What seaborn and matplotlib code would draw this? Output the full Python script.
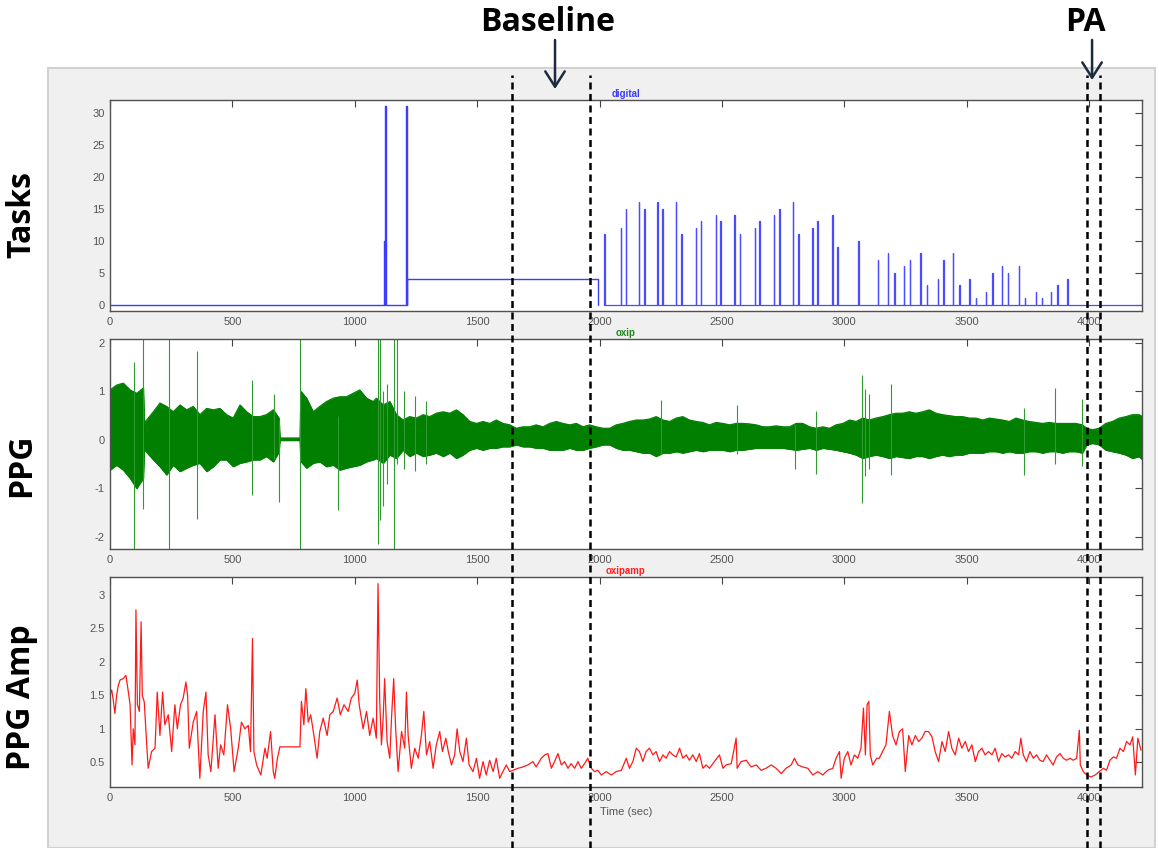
import numpy as np
import seaborn as sns
import matplotlib.pyplot as plt
from matplotlib import transforms
from matplotlib.lines import Line2D
from matplotlib.patches import Rectangle, FancyArrowPatch
from matplotlib.ticker import FormatStrFormatter

# --- Tasks ("digital") : blocks before 2000 s, then task markers ---
block_start = [1121, 1124, 1210, 1214]
block_end = [1124, 1128, 1214, 1992]
block_level = [10, 31, 31, 4]

spike_t = [2019, 2086, 2108, 2160, 2182, 2235, 2257, 2311, 2333, 2392,
           2414, 2475, 2493, 2551, 2573, 2635, 2653, 2711, 2734, 2789,
           2811, 2868, 2890, 2951, 2971, 3056, 3136, 3177, 3203, 3243,
           3268, 3310, 3337, 3381, 3404, 3442, 3469, 3511, 3536, 3578,
           3605, 3644, 3668, 3712, 3737, 3781, 3806, 3844, 3869, 3911]
spike_h = [11, 12, 15, 16, 15, 16, 15, 16, 11, 12,
           13, 14, 13, 14, 11, 12, 13, 14, 15, 16,
           11, 12, 13, 14, 9, 10, 7, 8, 5, 6,
           7, 8, 3, 4, 7, 8, 3, 4, 1, 2,
           5, 6, 5, 6, 1, 2, 1, 2, 3, 4]

# --- PPG ("oxip") : envelope of the dense signal + isolated artefacts ---
ppg_t = [0, 27, 54, 82, 109, 136, 140, 177, 204, 231,
         258, 286, 313, 340, 367, 395, 422, 449, 476, 503,
         531, 558, 585, 612, 639, 667, 690, 694, 776, 780,
         803, 830, 857, 884, 912, 939, 966, 993, 1020, 1048,
         1075, 1088, 1116, 1143, 1170, 1197, 1224, 1252, 1279, 1306,
         1333, 1361, 1388, 1415, 1442, 1469, 1497, 1524, 1551, 1578,
         1605, 1633, 1660, 1687, 1714, 1741, 1769, 1796, 1823, 1850,
         1878, 1905, 1932, 1959, 1986, 2014, 2041, 2068, 2095, 2122,
         2150, 2177, 2204, 2231, 2259, 2286, 2313, 2340, 2367, 2395,
         2422, 2449, 2476, 2504, 2531, 2558, 2585, 2612, 2640, 2667,
         2694, 2721, 2749, 2776, 2803, 2830, 2858, 2885, 2912, 2939,
         2966, 2994, 3021, 3048, 3075, 3102, 3129, 3157, 3184, 3211,
         3238, 3265, 3292, 3320, 3347, 3374, 3401, 3428, 3456, 3483,
         3510, 3537, 3565, 3592, 3619, 3646, 3674, 3701, 3728, 3755,
         3782, 3810, 3837, 3864, 3891, 3918, 3945, 3972, 3990, 4014,
         4041, 4068, 4095, 4123, 4150, 4177, 4204, 4218]
ppg_hi = [1.03, 1.13, 1.17, 1.03, 0.96, 1.07, 0.35, 0.58, 0.76, 0.69,
          0.58, 0.72, 0.62, 0.69, 0.52, 0.65, 0.62, 0.65, 0.52, 0.45,
          0.72, 0.58, 0.48, 0.48, 0.52, 0.62, 0.45, 0.04, 0.04, 1.00,
          0.86, 0.58, 0.69, 0.79, 0.86, 0.89, 0.89, 0.96, 1.03, 0.86,
          0.79, 0.86, 0.72, 0.79, 0.52, 0.41, 0.48, 0.45, 0.52, 0.48,
          0.55, 0.58, 0.55, 0.62, 0.52, 0.38, 0.34, 0.38, 0.34, 0.41,
          0.34, 0.31, 0.24, 0.27, 0.27, 0.31, 0.27, 0.34, 0.38, 0.34,
          0.31, 0.34, 0.27, 0.31, 0.27, 0.24, 0.24, 0.31, 0.34, 0.38,
          0.41, 0.41, 0.43, 0.48, 0.41, 0.38, 0.45, 0.48, 0.41, 0.38,
          0.36, 0.31, 0.36, 0.34, 0.31, 0.34, 0.34, 0.33, 0.31, 0.27,
          0.27, 0.29, 0.27, 0.27, 0.34, 0.34, 0.27, 0.24, 0.27, 0.24,
          0.31, 0.34, 0.41, 0.38, 0.45, 0.41, 0.45, 0.48, 0.52, 0.55,
          0.55, 0.58, 0.55, 0.58, 0.62, 0.55, 0.52, 0.50, 0.48, 0.48,
          0.45, 0.45, 0.41, 0.45, 0.43, 0.41, 0.38, 0.45, 0.41, 0.38,
          0.36, 0.34, 0.36, 0.34, 0.34, 0.34, 0.34, 0.31, 0.24, 0.21,
          0.24, 0.34, 0.38, 0.45, 0.48, 0.52, 0.52, 0.48]
ppg_lo = [-0.62, -0.52, -0.62, -0.79, -1.00, -0.79, -0.20, -0.41, -0.55, -0.72,
          -0.52, -0.65, -0.58, -0.52, -0.48, -0.65, -0.55, -0.41, -0.41, -0.55,
          -0.48, -0.45, -0.41, -0.41, -0.34, -0.45, -0.25, -0.01, -0.01, -0.45,
          -0.58, -0.48, -0.45, -0.55, -0.52, -0.62, -0.58, -0.55, -0.52, -0.45,
          -0.41, -0.38, -0.48, -0.31, -0.38, -0.21, -0.34, -0.27, -0.34, -0.31,
          -0.27, -0.34, -0.27, -0.38, -0.31, -0.21, -0.17, -0.21, -0.17, -0.17,
          -0.14, -0.14, -0.10, -0.14, -0.14, -0.17, -0.17, -0.21, -0.21, -0.21,
          -0.17, -0.21, -0.21, -0.17, -0.14, -0.10, -0.10, -0.17, -0.21, -0.21,
          -0.24, -0.27, -0.27, -0.34, -0.27, -0.27, -0.24, -0.27, -0.24, -0.21,
          -0.24, -0.21, -0.21, -0.21, -0.24, -0.21, -0.21, -0.19, -0.17, -0.17,
          -0.17, -0.17, -0.17, -0.19, -0.21, -0.19, -0.17, -0.21, -0.17, -0.19,
          -0.21, -0.24, -0.27, -0.31, -0.38, -0.34, -0.31, -0.34, -0.38, -0.34,
          -0.36, -0.38, -0.34, -0.34, -0.38, -0.34, -0.31, -0.34, -0.31, -0.31,
          -0.27, -0.27, -0.27, -0.24, -0.24, -0.27, -0.24, -0.27, -0.27, -0.24,
          -0.24, -0.27, -0.24, -0.24, -0.27, -0.24, -0.24, -0.27, -0.10, -0.07,
          -0.10, -0.21, -0.24, -0.27, -0.31, -0.38, -0.34, -0.41]

art_t = [97, 133, 241, 356, 580, 669, 691, 777, 930, 1094, 1101, 1114,
         1130, 1161, 1172, 1200, 1245, 1290, 2251, 2560, 2800, 2886,
         3072, 3086, 3100, 3192, 3734, 3862, 3972, 4214]
art_lo = [-2.25, -1.43, -2.25, -1.64, -1.14, -0.40, -1.29, -2.25, -1.44, -2.14, -1.66, -1.37,
          -0.90, -2.25, -0.50, -0.60, -0.65, -0.50, -0.30, -0.30, -0.60, -0.70,
          -1.30, -0.75, -0.60, -0.72, -0.72, -0.50, -0.54, -0.60]
art_hi = [1.60, 2.10, 2.10, 1.84, 1.24, 0.95, 0.40, 2.10, 0.50, 2.10, 2.10, 1.00,
          1.15, 2.10, 2.10, 1.00, 0.90, 0.80, 0.83, 0.71, 0.30, 0.60,
          1.34, 1.05, 0.95, 1.16, 0.66, 1.06, 0.84, 0.30]

# --- PPG amplitude ("oxipamp") ---
amp_t = [0, 7, 14, 20, 27, 34, 41, 54, 65, 75, 82, 90, 95, 102, 106, 112, 120, 127, 132, 140,
         150, 156, 170, 184, 193, 204, 215, 224, 238, 252, 265, 275, 288, 299, 310, 317, 324, 340, 354, 367,
         381, 392, 401, 412, 429, 442, 452, 465, 480, 493, 507, 524, 537, 551, 565, 574, 582, 588, 599, 616,
         633, 642, 656, 667, 673, 684, 694, 776, 782, 792, 800, 810, 820, 833, 846, 857, 871, 887, 898, 912,
         928, 941, 956, 973, 986, 1000, 1010, 1018, 1034, 1048, 1061, 1075, 1088, 1095, 1102, 1109, 1116, 1122, 1132, 1143,
         1150, 1159, 1167, 1177, 1191, 1204, 1211, 1218, 1231, 1245, 1259, 1272, 1282, 1293, 1306, 1320, 1333, 1347, 1358, 1372,
         1382, 1395, 1408, 1418, 1429, 1442, 1456, 1467, 1483, 1497, 1510, 1524, 1537, 1551, 1565, 1578, 1592, 1605, 1619, 1633,
         1646, 1667, 1687, 1707, 1728, 1741, 1762, 1776, 1789, 1803, 1816, 1830, 1844, 1857, 1871, 1884, 1898, 1912, 1925, 1939,
         1952, 1966, 1980, 1993, 2007, 2027, 2048, 2068, 2089, 2109, 2122, 2136, 2150, 2163, 2177, 2190, 2204, 2218, 2231, 2245,
         2259, 2272, 2286, 2299, 2313, 2327, 2340, 2354, 2367, 2381, 2395, 2408, 2422, 2435, 2449, 2469, 2490, 2504, 2517, 2538,
         2558, 2562, 2578, 2599, 2619, 2640, 2660, 2680, 2701, 2721, 2742, 2762, 2783, 2796, 2810, 2830, 2851, 2871, 2892, 2912,
         2932, 2953, 2966, 2980, 2987, 3000, 3014, 3027, 3041, 3055, 3068, 3078, 3086, 3093, 3100, 3106, 3116, 3132, 3143, 3156,
         3170, 3184, 3197, 3211, 3225, 3238, 3249, 3263, 3276, 3290, 3303, 3317, 3330, 3344, 3358, 3371, 3385, 3399, 3412, 3426,
         3439, 3453, 3467, 3480, 3494, 3507, 3521, 3535, 3548, 3562, 3575, 3589, 3603, 3616, 3630, 3643, 3657, 3671, 3684, 3698,
         3712, 3721, 3731, 3744, 3758, 3772, 3785, 3799, 3812, 3826, 3840, 3853, 3867, 3881, 3894, 3908, 3922, 3935, 3949, 3960,
         3964, 3976, 3990, 4007, 4025, 4041, 4058, 4071, 4085, 4099, 4112, 4126, 4140, 4153, 4167, 4178, 4189, 4199, 4212]
amp_v = [1.50, 1.58, 1.41, 1.23, 1.50, 1.65, 1.73, 1.75, 1.80, 1.55, 1.36, 0.46, 1.00, 0.76, 2.78, 1.36, 1.26, 2.60, 1.50, 1.40,
         0.76, 0.41, 0.66, 0.71, 1.55, 0.90, 1.55, 1.06, 1.21, 0.66, 1.36, 1.00, 1.36, 1.46, 1.70, 1.50, 0.71, 1.10, 1.26, 0.26,
         1.26, 1.55, 0.61, 0.36, 1.21, 0.41, 0.76, 0.61, 1.36, 1.00, 0.36, 0.71, 1.10, 1.00, 1.05, 0.66, 2.35, 0.66, 0.46, 0.31,
         0.71, 0.56, 0.96, 0.36, 0.26, 0.56, 0.73, 0.73, 1.41, 1.06, 1.60, 1.10, 1.21, 0.90, 0.56, 0.96, 1.16, 0.90, 1.21, 1.26,
         1.46, 1.21, 1.36, 1.26, 1.46, 1.53, 1.73, 1.36, 1.00, 1.26, 0.90, 1.16, 0.86, 3.17, 1.40, 0.76, 1.16, 1.75, 0.81, 0.56,
         1.16, 1.75, 1.00, 0.36, 0.96, 0.71, 1.55, 0.90, 0.41, 0.71, 0.56, 0.90, 1.26, 0.61, 0.81, 0.41, 0.76, 0.96, 0.66, 0.86,
         0.66, 0.46, 0.61, 1.00, 0.66, 0.51, 0.86, 0.46, 0.36, 0.56, 0.26, 0.51, 0.31, 0.53, 0.36, 0.56, 0.26, 0.36, 0.46, 0.36,
         0.38, 0.41, 0.43, 0.46, 0.51, 0.43, 0.56, 0.61, 0.63, 0.41, 0.51, 0.63, 0.46, 0.51, 0.41, 0.48, 0.41, 0.51, 0.41, 0.48,
         0.56, 0.41, 0.36, 0.38, 0.31, 0.36, 0.31, 0.36, 0.38, 0.56, 0.41, 0.51, 0.71, 0.66, 0.51, 0.66, 0.71, 0.61, 0.66, 0.51,
         0.61, 0.56, 0.66, 0.61, 0.58, 0.71, 0.56, 0.61, 0.53, 0.61, 0.51, 0.63, 0.41, 0.46, 0.41, 0.51, 0.61, 0.41, 0.46, 0.48,
         0.86, 0.41, 0.51, 0.53, 0.43, 0.46, 0.38, 0.41, 0.46, 0.41, 0.33, 0.41, 0.46, 0.56, 0.46, 0.43, 0.41, 0.31, 0.36, 0.31,
         0.38, 0.41, 0.56, 0.66, 0.26, 0.56, 0.66, 0.46, 0.61, 0.56, 0.71, 1.31, 0.61, 1.36, 1.41, 0.61, 0.46, 0.56, 0.56, 0.66,
         0.76, 1.26, 0.90, 0.76, 0.96, 1.00, 0.36, 0.90, 0.76, 0.90, 0.81, 0.86, 0.96, 0.96, 0.88, 0.66, 0.51, 0.81, 0.66, 0.96,
         0.71, 0.61, 0.86, 0.71, 0.81, 0.66, 0.76, 0.51, 0.66, 0.71, 0.61, 0.66, 0.61, 0.71, 0.51, 0.63, 0.58, 0.61, 0.56, 0.66,
         0.61, 0.86, 0.61, 0.51, 0.66, 0.56, 0.61, 0.53, 0.51, 0.61, 0.53, 0.46, 0.58, 0.63, 0.56, 0.53, 0.56, 0.53, 0.56, 0.98,
         0.46, 0.36, 0.31, 0.28, 0.31, 0.36, 0.41, 0.38, 0.53, 0.58, 0.56, 0.71, 0.66, 0.81, 0.76, 0.88, 0.31, 0.86, 0.68]

# annotation positions (seconds)
baseline_lines = [1644, 1962]
pa_lines = [3990, 4045]
baseline_arrow, pa_arrow = 1818, 4012
baseline_text, pa_text = 1789, 3983

XMAX = 4216
W, H = 1159, 848


def step_trace(starts, ends, levels):
    xs, ys = [0], [0]
    for s, e, v in zip(starts, ends, levels):
        xs += [s, s, e, e]
        ys += [0, v, v, 0]
    xs.append(XMAX)
    ys.append(0)
    return np.array(xs), np.array(ys)


sns.set_style("white")
plt.rcParams['font.family'] = ['Liberation Sans', 'DejaVu Sans']
plt.rcParams['axes.unicode_minus'] = False

fig = plt.figure(figsize=(W / 100, H / 100), dpi=100)
fig.patches.append(Rectangle((48 / W, 0), (1155 - 48) / W, 1 - 68 / H,
                             transform=fig.transFigure, facecolor='#f0f0f0',
                             edgecolor='#d2d2d2', lw=1.5, zorder=-1))


def px_axes(x0, y0, x1, y1):
    return fig.add_axes([x0 / W, 1 - y1 / H, (x1 - x0) / W, (y1 - y0) / H])


ax1 = px_axes(110, 100, 1142, 311)
ax2 = px_axes(110, 339, 1142, 549)
ax3 = px_axes(110, 577, 1142, 787)

# Tasks
blk_x, blk_y = step_trace(block_start, block_end, block_level)
sp_x, sp_y = step_trace(spike_t, [t + 2 for t in spike_t], spike_h)
sns.lineplot(x=blk_x[:-1], y=blk_y[:-1], ax=ax1, color='#3c3cff', lw=1.0, estimator=None, sort=False)
sns.lineplot(x=sp_x[1:], y=sp_y[1:], ax=ax1, color='#4b4bff', lw=0.9, estimator=None, sort=False)
ax1.set_ylim(-1, 32)
ax1.set_yticks(range(0, 31, 5))
ax1.set_title('digital', color='#3c3cff', fontsize=7, fontweight='bold', pad=2)

# PPG
ax2.fill_between(ppg_t, ppg_lo, ppg_hi, color='#007f00', lw=0.6)
sns.lineplot(x=ppg_t, y=ppg_hi, ax=ax2, color='#007f00', lw=0.8, estimator=None, sort=False)
sns.lineplot(x=ppg_t, y=ppg_lo, ax=ax2, color='#007f00', lw=0.8, estimator=None, sort=False)
ax2.vlines(art_t, art_lo, art_hi, color='#2f9a2f', lw=0.8)
ax2.set_ylim(-2.25, 2.08)
ax2.set_yticks([-2, -1, 0, 1, 2])
ax2.set_title('oxip', color='#1a8a1a', fontsize=7, fontweight='bold', pad=2)

# PPG Amp
sns.lineplot(x=amp_t, y=amp_v, ax=ax3, color='#ff1a1a', lw=0.9, estimator=None, sort=False)
ax3.set_ylim(0.13, 3.27)
ax3.set_yticks([0.5, 1, 1.5, 2, 2.5, 3])
ax3.yaxis.set_major_formatter(FormatStrFormatter('%g'))
ax3.set_title('oxipamp', color='#ff2020', fontsize=7, fontweight='bold', pad=2)

for ax in (ax1, ax2, ax3):
    ax.set_facecolor('white')
    ax.set_xlim(0, XMAX)
    ax.set_xticks(range(0, 4001, 500))
    ax.set_xlabel('')
    ax.set_ylabel('')
    ax.tick_params(direction='in', top=True, right=True, length=5, width=0.8,
                   color='#444444', labelsize=8, labelcolor='#555555', pad=4)
    for s in ax.spines.values():
        s.set_color('#505050')
        s.set_linewidth(1.0)
ax3.set_xlabel('Time (sec)', fontsize=8, color='#555555', labelpad=3)

# dashed markers, arrows and headings across the whole figure
blend = transforms.blended_transform_factory(ax3.transData, fig.transFigure)
for x in baseline_lines + pa_lines:
    fig.lines.append(Line2D([x, x], [0, 1 - 75 / H], transform=blend, color='black',
                            lw=1.8, dashes=(2.8, 1.8), zorder=10))

head = dict(arrowstyle='->, head_length=0.55, head_width=0.35', lw=1.8,
            color='#1c2a3f', mutation_scale=20, shrinkA=0, shrinkB=0)
fig.add_artist(FancyArrowPatch((baseline_arrow, 1 - 40 / H), (baseline_arrow, 1 - 89 / H),
                               transform=blend, **head))
fig.add_artist(FancyArrowPatch((pa_arrow, 1 - 40 / H), (pa_arrow, 1 - 80 / H),
                               transform=blend, **head))

big = dict(fontsize=23, fontweight='bold', family=['Open Sans', 'DejaVu Sans'], color='black')
fig.text(baseline_text, 1 - 31 / H, 'Baseline', transform=blend, ha='center', va='baseline', **big)
fig.text(pa_text, 1 - 31 / H, 'PA', transform=blend, ha='center', va='baseline', **big)

for label, yc in [('Tasks', 214), ('PPG', 465), ('PPG Amp', 697)]:
    fig.text(22 / W, 1 - yc / H, label, rotation=90, ha='center', va='center', **big)

fig.savefig('out.png', dpi=100)
